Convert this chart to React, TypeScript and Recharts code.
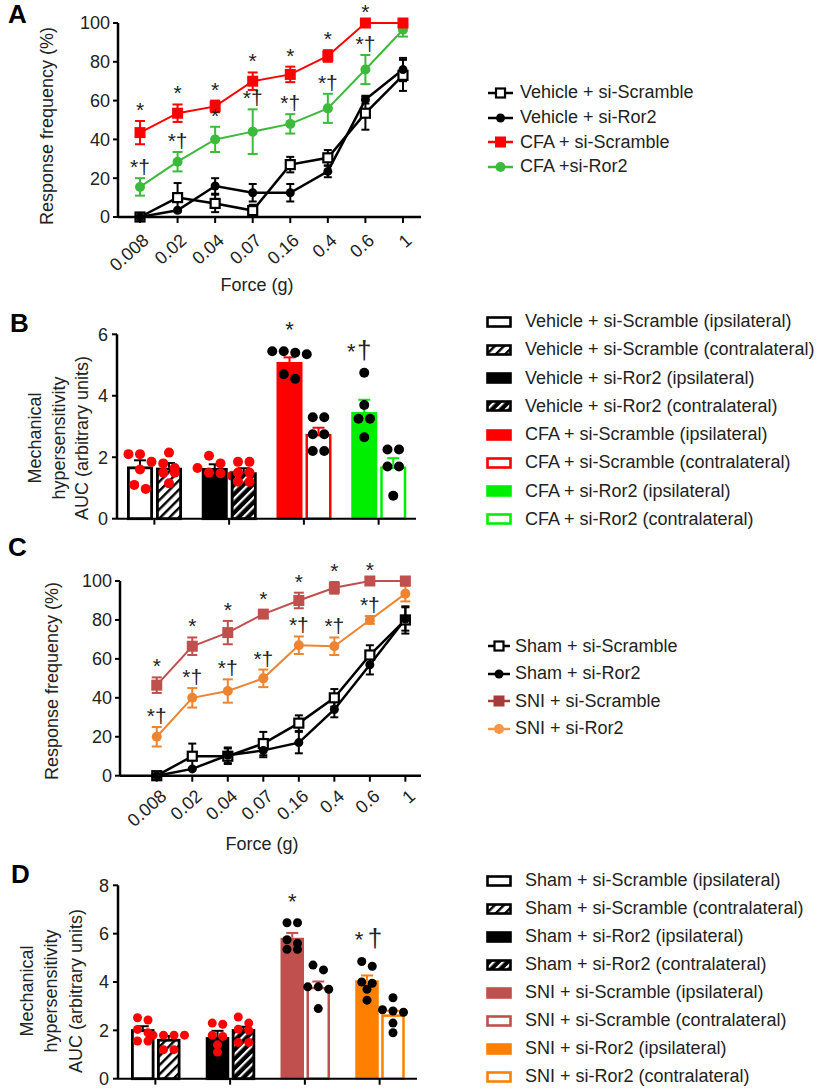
import React from 'react';
import { ComposedChart, BarChart, Line, Bar, ErrorBar, XAxis, YAxis, Legend } from 'recharts';

const FONT = '"Liberation Sans", Arial, Helvetica, sans-serif';
const INK = '#222';

// ---------- Panel A / C shared categories ----------
const forceLabels = ['0.008', '0.02', '0.04', '0.07', '0.16', '0.4', '0.6', '1'];
const forceIndex = [0, 1, 2, 3, 4, 5, 6, 7];

// ---------- Panel A ----------
const aNames = ['Vehicle + si-Scramble', 'Vehicle + si-Ror2', 'CFA + si-Scramble', 'CFA +si-Ror2'];
const aVehScrMean = [0, 10, 7, 3.3, 27, 30.5, 53.5, 73];
const aVehScrSem = [0, 7.5, 4.5, 3, 4, 4, 8.5, 8];
const aVehRorMean = [0, 3.5, 16, 12.5, 12.5, 23.5, 60.5, 76];
const aVehRorSem = [0, 0, 4, 4.5, 4.5, 3, 2, 6];
const aCfaScrMean = [43.5, 53.5, 57, 70, 73.5, 83, 100, 100];
const aCfaScrSem = [6, 4.5, 3, 4.5, 4, 3, 0, 0];
const aCfaRorMean = [15.5, 28.5, 40, 44, 48, 56, 76, 96.5];
const aCfaRorSem = [4.5, 5, 6.5, 11.5, 5, 7.5, 7.5, 3.5];
const aCfaScrSig = ['*', '*', '*', '*', '*', '*', '*', ''];
const aCfaRorSig = ['*†', '*†', '*', '*†', '*†', '*†', '*†', ''];

// ---------- Panel B ----------
const bGroups = ['Vehicle + si-Scramble', 'Vehicle + si-Ror2', 'CFA + si-Scramble', 'CFA + si-Ror2'];
const bIpsiMean = [1.7, 1.65, 5.1, 3.47];
const bIpsiSem = [0.2, 0.12, 0.15, 0.4];
const bContraMean = [1.66, 1.51, 2.76, 1.7];
const bContraSem = [0.15, 0.13, 0.2, 0.27];
const bIpsiDots = [
  [2.1, 2.1, 1.85, 1.6, 1.1, 0.97],
  [2.05, 1.8, 1.65, 1.5, 1.48, 1.4],
  [5.45, 5.45, 5.4, 5.35, 4.7, 4.55],
  [4.75, 3.7, 3.25, 3.25, 2.65],
];
const bContraDots = [
  [2.15, 1.8, 1.65, 1.5, 1.5, 1.15],
  [1.85, 1.85, 1.5, 1.5, 1.2, 1.2],
  [3.3, 3.3, 2.75, 2.75, 2.2, 2.2],
  [2.25, 2.25, 1.7, 1.7, 0.75],
];
const bIpsiSig = ['', '', '*', '*†'];

// ---------- Panel C ----------
const cNames = ['Sham + si-Scramble', 'Sham + si-Ror2', 'SNI + si-Scramble', 'SNI + si-Ror2'];
const cShamScrMean = [0, 10, 10, 16.5, 27, 40, 62, 80];
const cShamScrSem = [0, 6.5, 4, 6, 4, 4.5, 5, 7];
const cShamRorMean = [0, 3.5, 10.5, 13, 17, 34, 57, 80.5];
const cShamRorSem = [0, 0, 4, 3.5, 5.5, 4, 5, 6];
const cSniScrMean = [46.5, 66.5, 73.5, 83, 90, 96.5, 100, 100];
const cSniScrSem = [4, 4.5, 6, 2, 4, 3, 0, 0];
const cSniRorMean = [20, 40, 43.5, 50, 67, 66.5, 80, 93.5];
const cSniRorSem = [5, 5, 6, 4.5, 4.5, 4.5, 2, 4];
const cSniScrSig = ['*', '*', '*', '*', '*', '*', '*', ''];
const cSniRorSig = ['*†', '*†', '*†', '*†', '*†', '*†', '*†', ''];

// ---------- Panel D ----------
const dGroups = ['Sham + si-Scramble', 'Sham + si-Ror2', 'SNI + si-Scramble', 'SNI + si-Ror2'];
const dIpsiMean = [2.05, 1.72, 5.83, 4.07];
const dIpsiSem = [0.12, 0.26, 0.2, 0.2];
const dContraMean = [1.65, 2.05, 3.8, 2.66];
const dContraSem = [0.12, 0.1, 0.22, 0.15];
const dIpsiDots = [
  [2.52, 2.43, 2.04, 1.9, 1.56, 1.56],
  [2.3, 2.25, 1.8, 1.75, 1.4, 1.1],
  [6.45, 6.45, 5.75, 5.6, 5.35, 5.35],
  [4.85, 4.65, 4.0, 3.95, 3.7, 3.25],
];
const dContraDots = [
  [1.8, 1.8, 1.8, 1.8, 1.2, 1.2],
  [2.55, 2.3, 2.05, 2.0, 1.5, 1.5],
  [4.7, 4.5, 3.8, 3.8, 3.7, 2.9],
  [3.35, 2.85, 2.8, 2.75, 2.3, 1.9],
];
const dIpsiSig = ['', '', '*', '*†'];

// ---------- styles ----------
const RED = '#ff0000';
const GREEN_LINE = '#3cba3c';
const GREEN_BAR = '#00ee00';
const SNI_RED = '#c0504d';
const ORANGE_LINE = '#ef8430';
const ORANGE_BAR = '#ff8000';

const toRows = (mean: number[], sem: number[]) =>
  mean.map((v, k) => ({ i: forceIndex[k], v, err: sem[k], top: v + sem[k] }));

const MarkerGlyph = ({ kind, cx, cy, size, color }: any) => {
  if (kind === 'circle') return <circle cx={cx} cy={cy} r={size / 2} fill={color} />;
  if (kind === 'open')
    return <rect x={cx - size / 2} y={cy - size / 2} width={size} height={size} fill="#fff" stroke={color} strokeWidth={2.2} />;
  return <rect x={cx - size / 2} y={cy - size / 2} width={size} height={size} fill={color} />;
};

const PanelTexts = ({ letter, letterX, letterY, yTitle, xTitle }: any) => (
  <g fontFamily={FONT}>
    <text x={letterX} y={letterY} fontSize={26} fontWeight={700} fill="#000">{letter}</text>
    {yTitle.map((t: any, k: number) => (
      <text key={k} transform={`translate(${t.x},${t.y}) rotate(-90)`} textAnchor="middle" fontSize={18} fill={INK}>
        {t.text}
      </text>
    ))}
    {xTitle ? (
      <text x={xTitle.x} y={xTitle.y} textAnchor="middle" fontSize={18} fill={INK}>{xTitle.text}</text>
    ) : null}
  </g>
);

const LineLegend = ({ items, rowH, iconW, gap }: any) => (
  <div style={{ fontFamily: FONT, fontSize: 18, color: INK }}>
    {items.map((it: any) => (
      <div key={it.name} style={{ display: 'flex', alignItems: 'center', height: rowH, whiteSpace: 'nowrap' }}>
        <svg width={iconW} height={14} style={{ flex: 'none', marginRight: gap }}>
          <line x1={0} y1={7} x2={iconW} y2={7} stroke={it.legendColor || it.color} strokeWidth={2.5} />
          <MarkerGlyph kind={it.kind} cx={iconW / 2} cy={7} size={it.size} color={it.legendColor || it.color} />
        </svg>
        <span>{it.name}</span>
      </div>
    ))}
  </div>
);

const BarLegend = ({ items, rowH }: any) => (
  <div style={{ fontFamily: FONT, fontSize: 18, color: INK }}>
    {items.map((it: any) => (
      <div key={it.name} style={{ display: 'flex', alignItems: 'center', height: rowH, whiteSpace: 'nowrap' }}>
        <svg width={26} height={12} style={{ flex: 'none', marginRight: 13 }}>
          <rect x={1.5} y={1.5} width={23} height={9} fill={it.st.fill} stroke={it.st.stroke} strokeWidth={2.6} />
        </svg>
        <span>{it.name}</span>
      </div>
    ))}
  </div>
);

const LinePanel = ({ cfg }: any) => {
  const { top, height, marginTop, xAxisH, yAxisW, xDomain, series, legendOrder, legend, texts, tickDx, tickDy } = cfg;
  const ForceTick = (p: any) => (
    <text
      transform={`translate(${p.x + tickDx},${p.y + tickDy}) rotate(-42)`}
      textAnchor="end"
      fontSize={18}
      fontFamily={FONT}
      fill={INK}
    >
      {forceLabels[p.payload.value]}
    </text>
  );
  const legendItems = legendOrder.map((n: string) => series.find((s: any) => s.name === n));
  return (
    <div style={{ position: 'absolute', left: 0, top }}>
      <ComposedChart width={820} height={height} margin={{ top: marginTop, right: 399, bottom: 0, left: 0 }}>
        <XAxis
          type="number"
          dataKey="i"
          domain={xDomain}
          ticks={forceIndex}
          interval={0}
          height={xAxisH}
          axisLine={{ stroke: '#000', strokeWidth: 2.5 }}
          tickLine={{ stroke: '#000', strokeWidth: 2 }}
          tickSize={6}
          tick={ForceTick}
        />
        <YAxis
          type="number"
          domain={[0, 100]}
          ticks={[0, 20, 40, 60, 80, 100]}
          interval={0}
          width={yAxisW}
          axisLine={{ stroke: '#000', strokeWidth: 2.5 }}
          tickLine={{ stroke: '#000', strokeWidth: 2 }}
          tickSize={5}
          tickMargin={3}
          tick={{ fontSize: 18, fill: INK, fontFamily: FONT }}
          label={<PanelTexts {...texts} />}
        />
        {series.map((s: any) => (
          <Line
            key={s.name}
            name={s.name}
            data={toRows(s.mean, s.sem)}
            dataKey="v"
            stroke={s.color}
            strokeWidth={s.lw}
            isAnimationActive={false}
            activeDot={false}
            dot={(p: any) =>
              p.cx == null ? <g key={p.index} /> : (
                <g key={p.index}>
                  <MarkerGlyph kind={s.kind} cx={p.cx} cy={p.cy} size={s.size} color={s.color} />
                </g>
              )
            }
          >
            <ErrorBar dataKey="err" direction="y" width={s.cap} stroke={s.color} strokeWidth={2} />
          </Line>
        ))}
        {series
          .filter((s: any) => s.sig)
          .map((s: any) => (
            <Line
              key={s.name + '-sig'}
              data={toRows(s.mean, s.sem)}
              dataKey="top"
              stroke="none"
              dot={false}
              activeDot={false}
              legendType="none"
              isAnimationActive={false}
              label={(p: any) => (
                <text key={p.index} x={p.x} y={p.y - 4} textAnchor="middle" fontSize={21} fontFamily={FONT} fill={INK}>
                  {s.sig[p.index]}
                </text>
              )}
            />
          ))}
        <Legend
          layout="vertical"
          align="center"
          verticalAlign="middle"
          wrapperStyle={{ left: legend.left, top: legend.top, width: 330 }}
          content={() => <LineLegend items={legendItems} rowH={legend.rowH} iconW={legend.iconW} gap={legend.gap} />}
        />
      </ComposedChart>
    </div>
  );
};

const swarm = (vals: number[], per: number, r: number) => {
  const order = vals.map((_, k) => k).sort((a, b) => vals[b] - vals[a]);
  const offs = vals.map(() => 0);
  let group: number[] = [];
  const flush = () => {
    const n = group.length;
    group.forEach((idx, j) => {
      offs[idx] = (j - (n - 1) / 2) * (2 * r + 1.5);
    });
    group = [];
  };
  order.forEach((idx) => {
    if (group.length && (vals[group[0]] - vals[idx]) * per > r * 1.6) flush();
    group.push(idx);
  });
  flush();
  return offs;
};

const BarMark = ({ p, s }: any) => {
  const { x, y, width, height, index } = p;
  const val = s.mean[index];
  if (!height || !val) return <g />;
  const per = height / val;
  const base = y + height;
  const st = s.styles[index];
  const sw = st.sw;
  const cx = x + width / 2;
  const errTop = y - s.sem[index] * per;
  const vals: number[] = s.dots[index];
  const offs = swarm(vals, per, s.dotR);
  const minDotY = Math.min(...vals.map((v) => base - v * per), errTop);
  const sig = s.sig ? s.sig[index] : '';
  return (
    <g>
      <rect x={x + sw / 2} y={y + sw / 2} width={width - sw} height={Math.max(0, height - sw / 2)} fill={st.fill} stroke={st.stroke} strokeWidth={sw} />
      <line x1={cx} y1={y} x2={cx} y2={errTop} stroke={st.stroke} strokeWidth={2} />
      <line x1={cx - s.cap} y1={errTop} x2={cx + s.cap} y2={errTop} stroke={st.stroke} strokeWidth={2} />
      {vals.map((v, k) => (
        <circle key={k} cx={cx + offs[k]} cy={base - v * per} r={s.dotR} fill={s.dotColors[index]} />
      ))}
      {sig ? (
        sig.includes('†') ? (
          <g fontFamily={FONT} fill={INK}>
            <text x={cx + s.sigDx[0]} y={minDotY - 14} textAnchor="middle" fontSize={22}>*</text>
            <text x={cx + s.sigDx[1]} y={minDotY - 14} textAnchor="middle" fontSize={26}>†</text>
          </g>
        ) : (
          <text x={cx} y={minDotY - 14} textAnchor="middle" fontSize={22} fontFamily={FONT} fill={INK}>{sig}</text>
        )
      ) : null}
    </g>
  );
};

const BarPanel = ({ cfg }: any) => {
  const { top, height, marginTop, marginRight, xAxisH, yAxisW, yMax, yTicks, groups, ipsi, contra, barSize, barGap, legend, texts } = cfg;
  const data = groups.map((g: string, k: number) => ({ g, ipsi: ipsi.mean[k], contra: contra.mean[k] }));
  const legendItems: any[] = [];
  groups.forEach((g: string, k: number) => {
    legendItems.push({ name: `${g} (ipsilateral)`, st: ipsi.styles[k] });
    legendItems.push({ name: `${g} (contralateral)`, st: contra.styles[k] });
  });
  return (
    <div style={{ position: 'absolute', left: 0, top }}>
      <BarChart width={820} height={height} data={data} margin={{ top: marginTop, right: marginRight, bottom: 0, left: 0 }} barGap={barGap}>
        <XAxis
          dataKey="g"
          height={xAxisH}
          interval={0}
          tickFormatter={() => ''}
          axisLine={{ stroke: '#000', strokeWidth: 2 }}
          tickLine={{ stroke: '#000', strokeWidth: 2 }}
          tickSize={6}
        />
        <YAxis
          type="number"
          domain={[0, yMax]}
          ticks={yTicks}
          interval={0}
          width={yAxisW}
          axisLine={{ stroke: '#000', strokeWidth: 2.5 }}
          tickLine={{ stroke: '#000', strokeWidth: 2 }}
          tickSize={5}
          tickMargin={4}
          tick={{ fontSize: 18, fill: INK, fontFamily: FONT }}
          label={<PanelTexts {...texts} />}
        />
        <Bar dataKey="ipsi" barSize={barSize} isAnimationActive={false} activeBar={false} shape={(p: any) => <BarMark p={p} s={ipsi} />} />
        <Bar dataKey="contra" barSize={barSize} isAnimationActive={false} activeBar={false} shape={(p: any) => <BarMark p={p} s={contra} />} />
        <Legend
          layout="vertical"
          align="center"
          verticalAlign="middle"
          wrapperStyle={{ left: legend.left, top: legend.top, width: 335 }}
          content={() => <BarLegend items={legendItems} rowH={legend.rowH} />}
        />
      </BarChart>
    </div>
  );
};

// ---------- configs ----------
const panelA = {
  top: 0,
  height: 300,
  marginTop: 23,
  xAxisH: 83,
  yAxisW: 118,
  xDomain: [-0.586, 7.48],
  tickDx: 10,
  tickDy: 17,
  series: [
    { name: aNames[3], mean: aCfaRorMean, sem: aCfaRorSem, color: GREEN_LINE, kind: 'circle', size: 10, lw: 2, cap: 5, sig: aCfaRorSig },
    { name: aNames[2], mean: aCfaScrMean, sem: aCfaScrSem, color: RED, kind: 'square', size: 11, lw: 2, cap: 5, sig: aCfaScrSig },
    { name: aNames[0], mean: aVehScrMean, sem: aVehScrSem, color: '#000', kind: 'open', size: 9, lw: 2.5, cap: 4 },
    { name: aNames[1], mean: aVehRorMean, sem: aVehRorSem, color: '#000', kind: 'circle', size: 9, lw: 2.5, cap: 4 },
  ],
  legendOrder: aNames,
  legend: { left: 488, top: 80.7, rowH: 24.6, iconW: 25, gap: 7 },
  texts: {
    letter: 'A', letterX: 8, letterY: 23,
    yTitle: [{ text: 'Response frequency (%)', x: 53, y: 126 }],
    xTitle: { text: 'Force (g)', x: 257, y: 291 },
  },
};

const panelC = {
  top: 530,
  height: 325,
  marginTop: 51,
  xAxisH: 79.3,
  yAxisW: 120,
  xDomain: [-1.035, 7.44],
  tickDx: 11,
  tickDy: 14,
  series: [
    { name: cNames[3], mean: cSniRorMean, sem: cSniRorSem, color: ORANGE_LINE, legendColor: '#f79646', kind: 'circle', size: 10, lw: 2, cap: 5, sig: cSniRorSig },
    { name: cNames[2], mean: cSniScrMean, sem: cSniScrSem, color: SNI_RED, legendColor: '#a43c39', kind: 'square', size: 11, lw: 2, cap: 5, sig: cSniScrSig },
    { name: cNames[0], mean: cShamScrMean, sem: cShamScrSem, color: '#000', kind: 'open', size: 9, lw: 2.5, cap: 4 },
    { name: cNames[1], mean: cShamRorMean, sem: cShamRorSem, color: '#000', kind: 'circle', size: 9, lw: 2.5, cap: 4 },
  ],
  legendOrder: cNames,
  legend: { left: 488, top: 102.7, rowH: 27.5, iconW: 22, gap: 5 },
  texts: {
    letter: 'C', letterX: 8, letterY: 26,
    yTitle: [{ text: 'Response frequency (%)', x: 58, y: 151 }],
    xTitle: { text: 'Force (g)', x: 262, y: 319.6 },
  },
};

const panelB = {
  top: 290,
  height: 270,
  marginTop: 44.3,
  marginRight: 404,
  xAxisH: 41.3,
  yAxisW: 117,
  yMax: 6,
  yTicks: [0, 2, 4, 6],
  groups: bGroups,
  barSize: 26,
  barGap: 3,
  ipsi: {
    mean: bIpsiMean, sem: bIpsiSem, dots: bIpsiDots, sig: bIpsiSig, dotR: 5, cap: 6, sigDx: [-13, 0],
    dotColors: [RED, RED, '#000', '#000'],
    styles: [
      { fill: '#fff', stroke: '#000', sw: 2.8 },
      { fill: '#000', stroke: '#000', sw: 2.8 },
      { fill: RED, stroke: RED, sw: 2 },
      { fill: GREEN_BAR, stroke: GREEN_BAR, sw: 2 },
    ],
  },
  contra: {
    mean: bContraMean, sem: bContraSem, dots: bContraDots, sig: null, dotR: 5, cap: 6, sigDx: [0, 0],
    dotColors: [RED, RED, '#000', '#000'],
    styles: [
      { fill: 'url(#hatchW)', stroke: '#000', sw: 2.8 },
      { fill: 'url(#hatchB)', stroke: '#000', sw: 2.8 },
      { fill: '#fff', stroke: RED, sw: 2.5 },
      { fill: '#fff', stroke: GREEN_BAR, sw: 2.5 },
    ],
  },
  legend: { left: 486, top: 17.5, rowH: 28.25 },
  texts: {
    letter: 'B', letterX: 10, letterY: 41.7,
    yTitle: [
      { text: 'Mechanical', x: 41, y: 148 },
      { text: 'hypersensitivity', x: 65, y: 148 },
      { text: 'AUC (arbitrary units)', x: 88, y: 148 },
    ],
  },
};

const panelD = {
  top: 846,
  height: 244,
  marginTop: 39.3,
  marginRight: 403,
  xAxisH: 11.3,
  yAxisW: 118,
  yMax: 8,
  yTicks: [0, 2, 4, 6, 8],
  groups: dGroups,
  barSize: 23.5,
  barGap: 2.5,
  ipsi: {
    mean: dIpsiMean, sem: dIpsiSem, dots: dIpsiDots, sig: dIpsiSig, dotR: 4.5, cap: 6, sigDx: [-8, 8],
    dotColors: [RED, RED, '#000', '#000'],
    styles: [
      { fill: '#fff', stroke: '#000', sw: 2.8 },
      { fill: '#000', stroke: '#000', sw: 2.8 },
      { fill: SNI_RED, stroke: SNI_RED, sw: 2 },
      { fill: ORANGE_BAR, stroke: ORANGE_BAR, sw: 2 },
    ],
  },
  contra: {
    mean: dContraMean, sem: dContraSem, dots: dContraDots, sig: null, dotR: 4.5, cap: 6, sigDx: [0, 0],
    dotColors: [RED, RED, '#000', '#000'],
    styles: [
      { fill: 'url(#hatchW)', stroke: '#000', sw: 2.8 },
      { fill: 'url(#hatchB)', stroke: '#000', sw: 2.8 },
      { fill: '#fff', stroke: SNI_RED, sw: 2.5 },
      { fill: '#fff', stroke: ORANGE_BAR, sw: 2.5 },
    ],
  },
  legend: { left: 486, top: 20.7, rowH: 28 },
  texts: {
    letter: 'D', letterX: 11, letterY: 37,
    yTitle: [
      { text: 'Mechanical', x: 33, y: 145 },
      { text: 'hypersensitivity', x: 57, y: 145 },
      { text: 'AUC (arbitrary units)', x: 82, y: 145 },
    ],
  },
};

export default function App() {
  return (
    <div style={{ position: 'absolute', left: 0, top: 0, width: 820, height: 1090, background: '#fff', fontFamily: FONT, overflow: 'hidden' }}>
      <svg width={0} height={0} style={{ position: 'absolute' }}>
        <defs>
          <pattern id="hatchW" patternUnits="userSpaceOnUse" width={6.5} height={6.5} patternTransform="rotate(45)">
            <rect width={6.5} height={6.5} fill="#fff" />
            <rect x={0} y={0} width={2.4} height={6.5} fill="#000" />
          </pattern>
          <pattern id="hatchB" patternUnits="userSpaceOnUse" width={6.5} height={6.5} patternTransform="rotate(45)">
            <rect width={6.5} height={6.5} fill="#000" />
            <rect x={0} y={0} width={2.2} height={6.5} fill="#fff" />
          </pattern>
        </defs>
      </svg>
      <LinePanel cfg={panelA} />
      <BarPanel cfg={panelB} />
      <LinePanel cfg={panelC} />
      <BarPanel cfg={panelD} />
    </div>
  );
}
